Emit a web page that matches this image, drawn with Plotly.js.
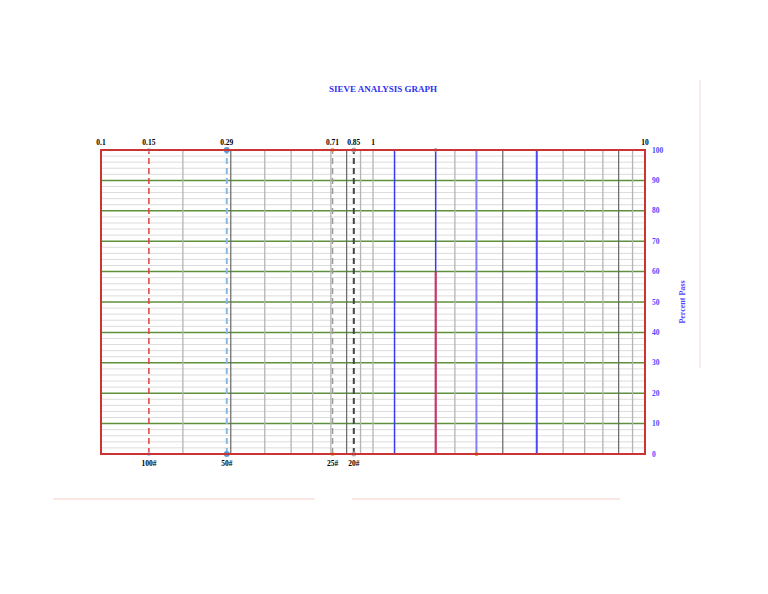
<!DOCTYPE html>
<html>
<head>
<meta charset="utf-8">
<script src="https://cdn.plot.ly/plotly-3.0.1.min.js"></script>
<style>
  html, body { margin: 0; padding: 0; background: #ffffff; }
  #chart { width: 768px; height: 594px; }
</style>
</head>
<body>
<div id="chart"></div>
<script>
// ---- data ----
const topTickVals = [0.1, 0.15, 0.29, 0.71, 0.85, 1, 10];
const topTickText = ['0.1', '0.15', '0.29', '0.71', '0.85', '1', '10'];
const sieveSizes = [0.15, 0.29, 0.71, 0.85];
const sieveLabels = ['100#', '50#', '25#', '20#'];
const yTickVals = [0, 10, 20, 30, 40, 50, 60, 70, 80, 90, 100];
const minorGridY = [2, 4, 6, 8, 12, 14, 16, 18, 22, 24, 26, 28, 32, 34, 36, 38, 42, 44, 46, 48,
  52, 54, 56, 58, 62, 64, 66, 68, 72, 74, 76, 78, 82, 84, 86, 88, 92, 94, 96, 98];
const gridLightX = [0.2, 0.4, 0.5, 0.6, 0.7, 0.9, 1, 2, 5, 6, 7, 9];
const gridDarkX = [0.3, 0.8, 3, 8];
const blueLinesX = [1.2, 1.7, 2.4, 4.0];
const redSegmentX = [1.7, 1.7];
const redSegmentY = [0, 60];

// ---- styles ----
const serif = 'Liberation Serif, Times New Roman, serif';
const dashedStyles = [
  {line: '#e04040', width: 1.5, marker: '#a8c8e8', msize: 4},
  {line: '#8ab8e6', width: 2, marker: '#5b9bd5', msize: 6},
  {line: '#9a9a9a', width: 1.5, marker: '#f0a030', msize: 4},
  {line: '#444444', width: 2, marker: '#b0b0b0', msize: 5}
];
const blueStyles = [
  {color: '#3a3af0', width: 1.5},
  {color: '#3a3af0', width: 1.5},
  {color: '#8080f8', width: 2},
  {color: '#4a4af0', width: 2}
];

const traces = [];
const shapes = [];

// horizontal minor grid lines
minorGridY.forEach(v => shapes.push({type: 'line', xref: 'paper', yref: 'y', x0: 0, x1: 1, y0: v, y1: v,
  line: {color: '#dcdcdc', width: 1}, layer: 'below'}));
// vertical grid lines
gridLightX.forEach(v => shapes.push({type: 'line', xref: 'x', yref: 'y', x0: v, x1: v, y0: 0, y1: 100,
  line: {color: '#b4b4b4', width: 1.3}, layer: 'below'}));
gridDarkX.forEach(v => shapes.push({type: 'line', xref: 'x', yref: 'y', x0: v, x1: v, y0: 0, y1: 100,
  line: {color: '#666666', width: 1.2}, layer: 'below'}));
// horizontal major (green) lines
yTickVals.forEach(v => shapes.push({type: 'line', xref: 'paper', yref: 'y', x0: 0, x1: 1, y0: v, y1: v,
  line: {color: '#5e8f3a', width: 1.5}, layer: 'below'}));

// blue lines
blueLinesX.forEach((v, i) => traces.push({
  x: [v, v], y: [0, 100], mode: 'lines', xaxis: 'x', yaxis: 'y',
  line: {color: blueStyles[i].color, width: blueStyles[i].width}, hoverinfo: 'skip', showlegend: false
}));
// end markers on two of the blue lines
traces.push({x: [blueLinesX[1]], y: [100], mode: 'markers', marker: {color: '#b0b0b0', size: 4},
  hoverinfo: 'skip', showlegend: false, cliponaxis: false});
traces.push({x: [blueLinesX[2]], y: [0], mode: 'markers', marker: {color: '#f08030', size: 4},
  hoverinfo: 'skip', showlegend: false, cliponaxis: false});

// red segment
traces.push({x: redSegmentX, y: redSegmentY, mode: 'lines',
  line: {color: '#e03050', width: 2}, hoverinfo: 'skip', showlegend: false});

// dashed sieve lines
sieveSizes.forEach((v, i) => {
  const s = dashedStyles[i];
  traces.push({x: [v, v], y: [0, 100], mode: 'lines',
    line: {color: s.line, width: s.width, dash: '6px,4px'}, hoverinfo: 'skip', showlegend: false});
  traces.push({x: [v, v], y: [0, 100], mode: 'markers',
    marker: {color: s.marker, size: s.msize}, hoverinfo: 'skip', showlegend: false, cliponaxis: false});
});

// invisible trace for bottom axis
traces.push({x: sieveSizes, y: sieveSizes.map(() => 0), xaxis: 'x2', yaxis: 'y', mode: 'markers',
  marker: {opacity: 0}, hoverinfo: 'skip', showlegend: false});

// red border
shapes.push({type: 'rect', xref: 'paper', yref: 'paper', x0: 0, x1: 1, y0: 0, y1: 1,
  line: {color: '#cc3333', width: 2}, layer: 'above'});
// faint pink vertical line on right
shapes.push({type: 'line', xref: 'paper', yref: 'paper', x0: 1.101, x1: 1.101, y0: 0.283, y1: 1.23,
  line: {color: '#f6d6de', width: 1}});
// faint bottom lines
shapes.push({type: 'line', xref: 'paper', yref: 'paper', x0: -0.088, x1: 0.393, y0: -0.148, y1: -0.148,
  line: {color: '#f3cfc8', width: 1}});
shapes.push({type: 'line', xref: 'paper', yref: 'paper', x0: 0.461, x1: 0.954, y0: -0.148, y1: -0.148,
  line: {color: '#f3cfc8', width: 1}});

const layout = {
  width: 768, height: 594,
  paper_bgcolor: '#ffffff', plot_bgcolor: '#ffffff',
  margin: {l: 101, r: 123, t: 150, b: 140, pad: 0},
  showlegend: false,
  font: {family: serif},
  title: {
    text: 'SIEVE ANALYSIS GRAPH',
    font: {family: serif, size: 9, color: '#3030f0', weight: 'bold'},
    x: 383 / 768, xref: 'container', xanchor: 'center',
    y: 1 - 89 / 594, yref: 'container', yanchor: 'middle'
  },
  xaxis: {
    type: 'log', range: [-1, 1], side: 'top',
    tickmode: 'array', tickvals: topTickVals, ticktext: topTickText,
    showgrid: false, zeroline: false, showline: false, ticks: '',
    ticklabelstandoff: 3,
    tickfont: {family: serif, size: 7.5, color: '#000000', weight: 'bold'},
    fixedrange: true
  },
  xaxis2: {
    type: 'log', range: [-1, 1], side: 'bottom', overlaying: 'x',
    tickmode: 'array', tickvals: sieveSizes, ticktext: sieveLabels,
    showgrid: false, zeroline: false, showline: false, ticks: '',
    ticklabelstandoff: 3,
    tickfont: {family: serif, size: 7.5, color: '#000000', weight: 'bold'},
    fixedrange: true
  },
  yaxis: {
    range: [0, 100], side: 'right',
    tickmode: 'array', tickvals: yTickVals,
    showgrid: false,
    zeroline: false, showline: false, ticks: '',
    ticklabelstandoff: 6,
    tickfont: {family: serif, size: 7.5, color: '#4a4aff', weight: 'bold'},
    title: {text: 'Percent Pass', font: {family: serif, size: 8, color: '#4a4aff', weight: 'bold'}, standoff: 16},
    fixedrange: true
  },
  shapes: shapes
};

Plotly.newPlot('chart', traces, layout, {staticPlot: true, displayModeBar: false});
</script>
</body>
</html>
